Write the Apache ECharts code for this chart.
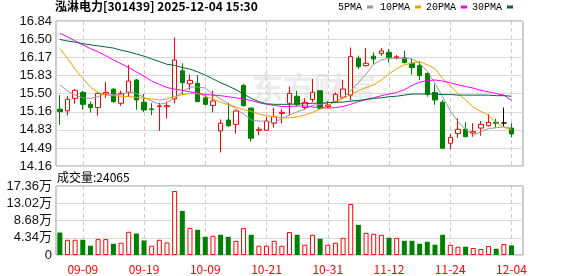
<!DOCTYPE html>
<html><head><meta charset="utf-8">
<script src="https://cdn.jsdelivr.net/npm/echarts@6/dist/echarts.min.js"></script>
<style>html,body{margin:0;padding:0;background:#fff}#c{width:578px;height:276px}</style>
</head><body><div id="c"></div>
<script>
const dates = ['09-04','09-05','09-08','09-09','09-10','09-11','09-12','09-15','09-16','09-17','09-18','09-19','09-22','09-23','09-24','09-25','09-26','09-29','09-30','10-09','10-10','10-13','10-14','10-15','10-16','10-17','10-20','10-21','10-22','10-23','10-24','10-27','10-28','10-29','10-30','10-31','11-03','11-04','11-05','11-06','11-07','11-10','11-11','11-12','11-13','11-14','11-17','11-18','11-19','11-20','11-21','11-24','11-25','11-26','11-27','11-28','12-01','12-02','12-03','12-04'];
const opens  = [15.21,15.18,15.41,15.52,15.30,15.24,15.49,15.58,15.32,15.52,15.75,15.34,15.215,15.26,15.255,15.40,15.92,15.68,15.69,15.42,15.28,14.81,15.01,14.93,15.65,15.23,14.82,14.82,14.95,15.13,15.32,15.45,15.24,15.39,15.55,15.26,15.34,15.43,15.47,16.15,16.015,16.19,16.24,16.26,16.16,16.16,16.06,16.015,15.87,15.52,15.34,14.58,14.76,14.84,14.77,14.86,14.905,14.967,14.955,14.86];
const closes = [15.164,15.392,15.558,15.30,15.238,15.503,15.521,15.349,15.503,15.731,15.38,15.195,15.205,15.27,15.275,16.119,15.70,15.743,15.349,15.30,15.361,14.95,14.905,15.177,15.275,14.672,14.838,14.992,15.072,15.152,15.503,15.30,15.337,15.522,15.226,15.288,15.485,15.583,16.181,15.996,16.058,16.138,16.286,16.17,16.18,16.07,15.978,15.83,15.485,15.38,14.487,14.69,14.838,14.702,14.795,14.93,14.967,14.95,14.955,14.752];
const lows   = [14.92,15.10,15.31,15.20,15.15,15.09,15.42,15.33,15.27,15.44,15.20,15.16,15.10,14.81,15.04,15.32,15.47,15.57,15.34,15.28,15.15,14.41,14.88,14.76,15.26,14.61,14.73,14.81,14.87,14.95,15.10,15.26,15.21,15.34,15.20,15.24,15.32,15.41,15.38,15.95,16.00,16.04,16.20,16.07,16.13,16.06,15.85,15.75,15.44,15.29,14.47,14.47,14.68,14.69,14.70,14.72,14.89,14.86,14.89,14.69];
const highs  = [15.47,15.45,15.58,15.55,15.35,15.52,15.71,15.60,15.55,16.03,15.77,15.49,15.32,15.33,15.35,16.53,16.06,15.85,15.84,15.47,15.55,15.02,15.33,15.20,15.68,15.24,14.88,15.07,15.24,15.21,15.63,15.55,15.41,15.77,15.55,15.36,15.52,15.75,16.35,16.20,16.34,16.26,16.34,16.32,16.21,16.29,16.14,16.09,15.89,15.67,15.38,14.75,15.04,14.97,14.95,14.99,15.12,15.03,15.24,14.95];
const volumes = [56600,38300,38300,38300,23300,40000,40000,28300,30800,58400,54100,36600,23300,38300,31600,161000,111000,68400,63400,45800,48300,50900,45800,35800,67600,50900,23300,23300,35800,23300,57600,50900,25800,50900,40800,25800,30800,43300,128500,75900,55900,53400,50900,43300,43300,35800,35800,28300,33300,25800,50900,25800,20800,20800,17500,15000,22500,15800,27500,24065];
const prevClose = 15.30;
const ma5  = [15.66,15.55,15.47,15.42,15.41,15.44,15.50,15.48,15.48,15.53,15.50,15.43,15.36,15.30,15.33,15.42,15.53,15.62,15.62,15.60,15.49,15.40,15.31,15.22,15.12,15.01,14.99,14.99,14.96,15.04,15.10,15.16,15.21,15.28,15.30,15.33,15.35,15.42,15.55,15.70,15.86,16.04,16.12,16.15,16.15,16.15,16.14,16.06,15.91,15.69,15.44,15.18,14.98,14.84,14.73,14.79,14.85,14.87,14.88,14.86];
const ma10 = [16.33,16.15,15.95,15.78,15.62,15.52,15.47,15.46,15.45,15.44,15.43,15.41,15.40,15.38,15.40,15.44,15.48,15.50,15.50,15.45,15.40,15.34,15.29,15.25,15.20,15.17,15.12,15.09,15.07,15.05,15.05,15.07,15.10,15.15,15.21,15.28,15.35,15.41,15.48,15.55,15.61,15.66,15.75,15.86,15.96,16.03,16.06,16.09,16.03,15.96,15.78,15.64,15.50,15.38,15.25,15.17,15.10,14.96,14.88,14.82];
const ma20 = [16.61,16.55,16.47,16.40,16.33,16.27,16.20,16.12,16.05,15.98,15.90,15.82,15.73,15.67,15.61,15.58,15.56,15.53,15.51,15.48,15.47,15.46,15.44,15.42,15.40,15.37,15.33,15.30,15.28,15.26,15.26,15.27,15.27,15.25,15.24,15.23,15.24,15.26,15.30,15.35,15.39,15.42,15.46,15.49,15.52,15.57,15.65,15.71,15.74,15.75,15.73,15.70,15.66,15.63,15.60,15.56,15.53,15.50,15.47,15.37];
const ma30 = [16.50,16.47,16.45,16.42,16.40,16.38,16.36,16.34,16.30,16.27,16.23,16.19,16.14,16.09,16.04,16.02,15.98,15.95,15.90,15.84,15.77,15.70,15.64,15.57,15.49,15.41,15.35,15.31,15.30,15.30,15.30,15.31,15.31,15.32,15.32,15.33,15.34,15.34,15.36,15.37,15.39,15.41,15.42,15.44,15.45,15.47,15.49,15.49,15.49,15.49,15.48,15.48,15.47,15.47,15.47,15.47,15.47,15.46,15.46,15.45];
const priceTicks = [14.16,14.49,14.83,15.16,15.50,15.83,16.17,16.50,16.84];
const volTicks = [0,43400,86800,130200,173600];
const stockName = '泓淋电力';
const titleRest = '[301439] 2025-12-04 15:30';
const legendNames = ['5PMA','10PMA','20PMA','30PMA'];
const maColors = ['#999999','#f0a000','#ff00ff','#006633'];

const RED='#ff0000', GREEN='#008000';
const CJK = "'Noto Sans CJK SC', sans-serif";
const showIdx = (i) => i >= 3 && (i - 3) % 8 === 0;
const legendLefts = [338, 380, 426, 472];

const candleData = dates.map((d,i) => {
  const item = {value:[opens[i], closes[i], lows[i], highs[i]]};
  if (opens[i] === closes[i]) item.itemStyle = {color:'#000', borderColor:'#000', color0:'#000', borderColor0:'#000'};
  return item;
});
const volData = volumes.map((v,i) => {
  const pc = i === 0 ? prevClose : closes[i-1];
  const up = closes[i] >= pc;
  return {value:v, itemStyle: up ? {color:'#fff', borderColor:RED, borderWidth:1} : {color:GREEN, borderColor:GREEN, borderWidth:0}};
});
const maArr = [ma5, ma10, ma20, ma30];

const xCommon = (gi, showLabel) => ({
  type:'category', gridIndex:gi, data:dates, max: dates.length, boundaryGap:true,
  axisLine:{show:false}, axisTick:{show:false},
  axisLabel:{show:showLabel, interval:(i)=>showIdx(i), color:RED, fontSize:12, fontFamily:CJK, margin:8},
  splitLine:{show:true, interval:(i)=>showIdx(i), alignWithLabel:true, lineStyle:{color:'#cccccc', type:[4,3], width:1}}
});

const chart = echarts.init(document.getElementById('c'), null, {renderer:'canvas'});
chart.setOption({
  animation:false,
  backgroundColor:'#fff',
  title:{text:'{a|' + stockName + '}{b|' + titleRest + '}', left:55, top:0, padding:0,
    textStyle:{rich:{a:{fontSize:12, color:'#000', fontFamily:CJK}, b:{fontSize:12, color:'#000', fontFamily:CJK}}}},
  legend: legendNames.map((n,k)=>({left:legendLefts[k], top:2, padding:0, align:'right', itemWidth:6, itemHeight:3, itemGap:0,
    data:[{name:n, icon:'rect', itemStyle:{color:maColors[k]}}],
    lineStyle:{opacity:0, width:0},
    textStyle:{fontSize:10, color:'#000', fontFamily:"'Liberation Mono', monospace"}})),
  graphic:[
    {type:'text', left:252, top:72, z:0, silent:true, style:{text:'东方财富', font:'bold 31px '+CJK, fill:'#ececec'}},
    {type:'text', left:57, top:171, style:{text:'成交量:' + volumes[volumes.length-1], font:'12px '+CJK, fill:'#000'}}
  ],
  grid:[
    {left:56, top:21, width:467, height:145, show:true, borderColor:'#999', borderWidth:1},
    {left:56, top:186, width:467, height:69, show:true, borderColor:'#999', borderWidth:1}
  ],
  xAxis:[xCommon(0,false), xCommon(1,true)],
  yAxis:[
    {type:'value', gridIndex:0, min:priceTicks[0], max:priceTicks[priceTicks.length-1], scale:true,
     axisLine:{show:false}, axisTick:{show:false, customValues:priceTicks},
     axisLabel:{customValues:priceTicks, formatter:(v)=>v.toFixed(2), fontSize:13, color:'#111', fontFamily:"'Liberation Sans', Arial", margin:4},
     splitLine:{show:true, lineStyle:{color:'#d9d9d9', width:1}}},
    {type:'value', gridIndex:1, min:volTicks[0], max:volTicks[volTicks.length-1], interval:volTicks[1]-volTicks[0],
     axisLine:{show:false}, axisTick:{show:false},
     axisLabel:{formatter:(v)=> v===0 ? '0' : (v/10000).toFixed(2)+'万', fontSize:13, color:'#111', fontFamily:"'Liberation Sans','Noto Sans CJK SC'", margin:4},
     splitLine:{show:true, lineStyle:{color:'#d9d9d9', width:1}}}
  ],
  series:[
    {type:'candlestick', xAxisIndex:0, yAxisIndex:0, data:candleData, barWidth:5, z:2,
     itemStyle:{color:'#fff', color0:GREEN, borderColor:RED, borderColor0:GREEN, borderColorDoji:'#000', borderWidth:1}},
    ...legendNames.map((n,k)=>({name:n, type:'line', xAxisIndex:0, yAxisIndex:0, data:maArr[k], showSymbol:false, symbol:'none',
      lineStyle:{color:maColors[k], width:1}, itemStyle:{color:maColors[k]}, z:3})),
    {type:'bar', xAxisIndex:1, yAxisIndex:1, data:volData, barWidth:5}
  ]
});
</script></body></html>
